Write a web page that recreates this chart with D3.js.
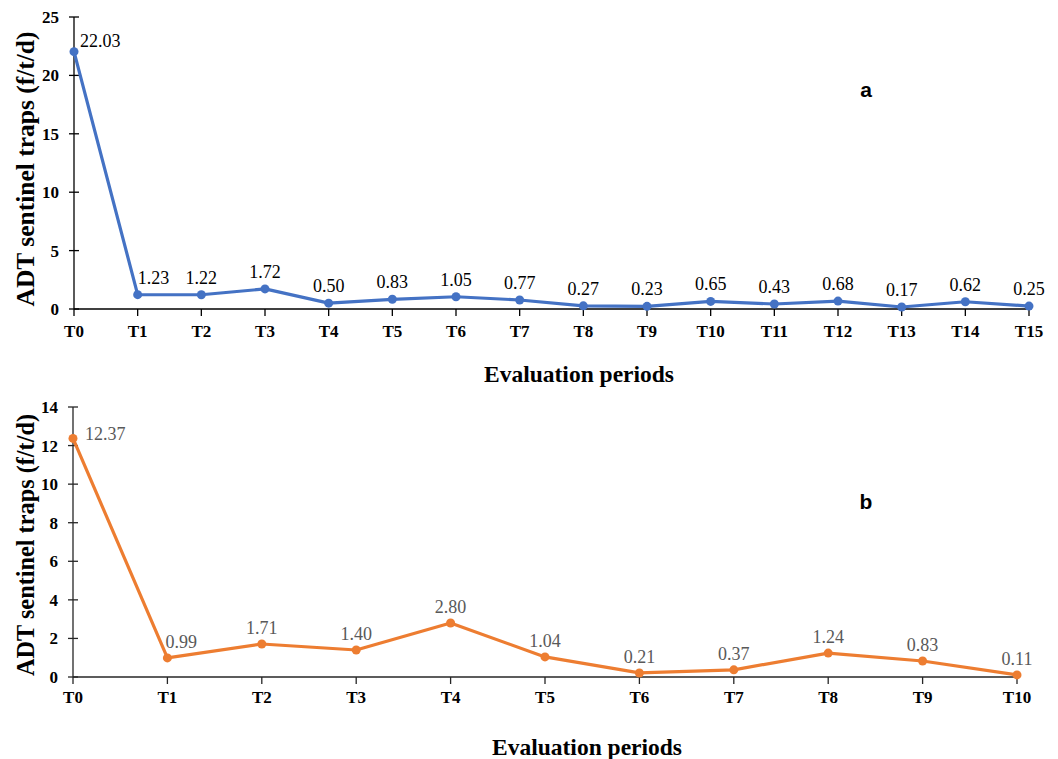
<!DOCTYPE html>
<html><head><meta charset="utf-8">
<script src="https://cdn.jsdelivr.net/npm/d3@7"></script>
<style>body{margin:0;background:#fff;}svg{display:block;}</style>
</head><body>
<svg id="c" width="1058" height="759"></svg>
<script>
const catsA = ["T0","T1","T2","T3","T4","T5","T6","T7","T8","T9","T10","T11","T12","T13","T14","T15"];
const valsA = [22.03,1.23,1.22,1.72,0.50,0.83,1.05,0.77,0.27,0.23,0.65,0.43,0.68,0.17,0.62,0.25];
const ticksA = [0,5,10,15,20,25];
const catsB = ["T0","T1","T2","T3","T4","T5","T6","T7","T8","T9","T10"];
const valsB = [12.37,0.99,1.71,1.40,2.80,1.04,0.21,0.37,1.24,0.83,0.11];
const ticksB = [0,2,4,6,8,10,12,14];

const svg = d3.select("#c");
const serif = "'Liberation Serif','Times New Roman',serif";

function panel(o){
  const g = svg.append("g");
  const x = d3.scalePoint().domain(o.cats).range([o.x0,o.x1]);
  const y = d3.scaleLinear().domain([0,o.ymax]).range([o.yb,o.yt]);
  g.append("line").attr("x1",o.x0).attr("x2",o.x1).attr("y1",o.yb).attr("y2",o.yb)
   .attr("stroke",o.acolor).attr("stroke-width",1.3);
  g.append("line").attr("x1",o.x0).attr("x2",o.x0).attr("y1",o.yb).attr("y2",o.yt)
   .attr("stroke",o.acolor).attr("stroke-width",1.3);
  g.selectAll(".yt").data(o.ticks).join("line")
   .attr("x1",o.x0-5).attr("x2",o.x0+5).attr("y1",d=>y(d)).attr("y2",d=>y(d))
   .attr("stroke",o.acolor).attr("stroke-width",1.3);
  g.selectAll(".yl").data(o.ticks).join("text")
   .attr("x",o.x0-15).attr("y",d=>y(d)).attr("dy","0.35em").attr("text-anchor","end")
   .attr("font-family",serif).attr("font-weight","bold").attr("font-size",17).text(d=>d);
  g.selectAll(".xt").data(o.cats).join("line")
   .attr("x1",d=>x(d)).attr("x2",d=>x(d)).attr("y1",o.yb).attr("y2",o.yb+7)
   .attr("stroke",o.acolor).attr("stroke-width",1.3);
  g.selectAll(".xl").data(o.cats).join("text")
   .attr("x",d=>x(d)).attr("y",o.yb+o.tly).attr("text-anchor","middle")
   .attr("font-family",serif).attr("font-weight","bold").attr("font-size",17).text(d=>d);
  const line = d3.line().x((d,i)=>x(o.cats[i])).y(d=>y(d));
  g.append("path").datum(o.vals).attr("d",line).attr("fill","none")
   .attr("stroke",o.color).attr("stroke-width",3.2).attr("stroke-linejoin","round");
  g.selectAll(".pt").data(o.vals).join("circle")
   .attr("cx",(d,i)=>x(o.cats[i])).attr("cy",d=>y(d)).attr("r",4.5).attr("fill",o.color);
  g.selectAll(".dl").data(o.vals).join("text")
   .attr("x",(d,i)=> i===0 ? x(o.cats[i])+o.l0dx : i===1 ? x(o.cats[i])+ o.l1dx : x(o.cats[i]))
   .attr("y",(d,i)=> i===0 ? y(d)+o.l0dy : y(d)-o.ldy)
   .attr("text-anchor",(d,i)=> i<=1 ? "start" : "middle")
   .attr("font-family",serif).attr("font-size",18).attr("fill",o.lcolor)
   .text(d=>d.toFixed(2));
  g.append("text").attr("x",o.xtX).attr("y",o.xtY).attr("text-anchor","middle")
   .attr("font-family",serif).attr("font-weight","bold").attr("font-size",23.5).text("Evaluation periods");
  g.append("text").attr("transform",`translate(${o.ytX},${o.ytY}) rotate(-90)`)
   .attr("text-anchor","middle").attr("font-family",serif).attr("font-weight","bold")
   .attr("font-size",o.ytSize).text("ADT sentinel traps (f/t/d)");
  g.append("text").attr("x",866).attr("y",o.letterY).attr("text-anchor","middle")
   .attr("font-family","'Liberation Sans',Arial,sans-serif").attr("font-weight","bold")
   .attr("font-size",21).text(o.letter);
}

panel({cats:catsA,vals:valsA,ticks:ticksA,ymax:25,x0:74,x1:1029,yb:309,yt:17,acolor:"#000",tly:28,
  color:"#4472C4",lcolor:"#000",l0dx:6,l0dy:-5,l1dx:0,ldy:11,xtX:579,xtY:382,ytX:34,ytY:169,ytSize:25.5,letter:"a",letterY:97});
panel({cats:catsB,vals:valsB,ticks:ticksB,ymax:14,x0:73,x1:1017,yb:677,yt:407,acolor:"#262626",tly:26,
  color:"#ED7D31",lcolor:"#595959",l0dx:12,l0dy:2,l1dx:-2,ldy:10,xtX:587,xtY:755,ytX:34,ytY:545,ytSize:24.3,letter:"b",letterY:509});
</script>
</body></html>
